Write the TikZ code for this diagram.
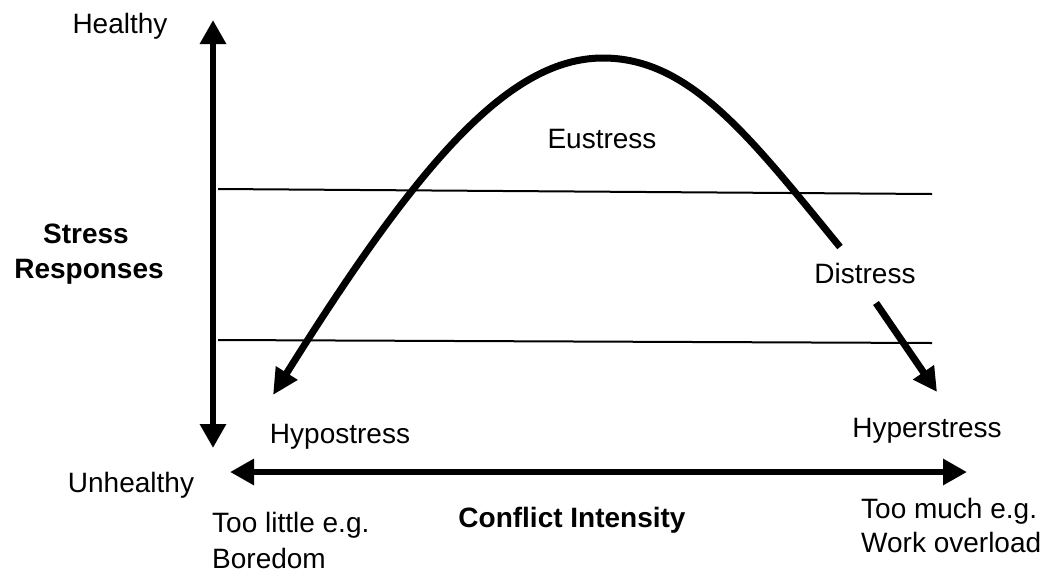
\documentclass[tikz,border=0pt]{standalone}
\usepackage{fontspec}
\setmainfont{Liberation Sans}
\usetikzlibrary{arrows.meta}
\begin{document}
\begin{tikzpicture}[x=1pt,y=-1pt,
  lbl/.style={font=\fontsize{28}{34}\selectfont, inner sep=0pt, anchor=base},
  lblw/.style={lbl, anchor=base west},
  blbl/.style={lbl, font=\fontsize{28}{34}\selectfont\bfseries},
  axis/.style={line width=6.5pt, {Triangle[length=24pt,width=25pt]}-{Triangle[length=24pt,width=25pt]}},
  curvearr/.style={line width=7pt},
  band/.style={line width=2pt}]
\useasboundingbox (0,0) rectangle (1040,573);
\fill[white] (0,0) rectangle (1040,573);

% axes
\coordinate (vt) at (213,20);
\coordinate (vb) at (213,448);
\coordinate (hl) at (230,472);
\coordinate (hr) at (967,472);
\draw[axis] (vt) -- (vb);
\draw[axis] (hl) -- (hr);

% band lines
\coordinate (u1) at (218,189);
\coordinate (u2) at (932,194);
\coordinate (l1) at (218,340);
\coordinate (l2) at (932,343);
\draw[band] (u1) -- (u2);
\draw[band] (l1) -- (l2);

% curve
\coordinate (c0) at (273,395);
\coordinate (a1) at (420,160);
\coordinate (a2) at (510,58);
\coordinate (peak) at (603,58);
\coordinate (b1) at (690,58);
\coordinate (b2) at (750,137);
\coordinate (cend) at (840,247);
\draw[curvearr, {Triangle[length=26pt,width=24pt]}-] (c0) .. controls (a1) and (a2) .. (peak) .. controls (b1) and (b2) .. (cend);

% distress arrow
\coordinate (d0) at (876,303);
\coordinate (d1) at (937,392);
\draw[curvearr, -{Triangle[length=24pt,width=24pt]}] (d0) -- (d1);

% labels
\node[lbl] (healthy) at (120,33) {Healthy};
\node[lbl] (unhealthy) at (131,492) {Unhealthy};
\node[blbl] (stress) at (86,243) {Stress};
\node[blbl] (responses) at (89,278) {Responses};
\node[lbl] (eustress) at (602,148) {Eustress};
\node[lbl] (distress) at (865,283) {Distress};
\node[lbl] (hypo) at (340,443) {Hypostress};
\node[lbl] (hyper) at (927,437) {Hyperstress};
\node[blbl] (conflict) at (572,527) {Conflict Intensity};
\node[lblw] (little) at (212,532) {Too little e.g.};
\node[lblw] (boredom) at (212,568) {Boredom};
\node[lblw] (much) at (861,518) {Too much e.g.};
\node[lblw] (overload) at (861,552) {Work overload};
\end{tikzpicture}
\end{document}
